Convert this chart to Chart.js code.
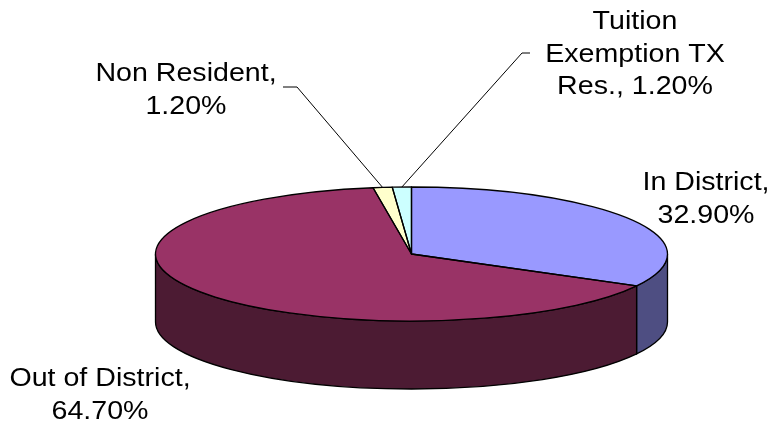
<!DOCTYPE html>
<html>
<head>
<meta charset="utf-8">
<script src="https://cdn.jsdelivr.net/npm/chart.js@4.4.0/dist/chart.umd.min.js"></script>
<style>
  html, body { margin: 0; padding: 0; background: #fff; }
  #wrap { width: 773px; height: 424px; }
</style>
</head>
<body>
<div id="wrap"><canvas id="residencyPie" width="773" height="424"></canvas></div>
<script>
// Residency breakdown, percent of students
const categories = ['In District', 'Out of District', 'Non Resident', 'Tuition Exemption TX Res.'];
const shares = [32.9, 64.7, 1.2, 1.2];
const topColors = ['#9999FF', '#993366', '#FFFFCC', '#CCFFFF'];
const sideColors = ['#4E4E82', '#4C1B33', '#808066', '#668080'];

// tilted pie: ellipse radii and wall height in canvas pixels
const PIE = { cx: 411.5, cy: 254, rx: 256, ry: 67, depth: 68 };

// label centre x / first baseline; stub = leader elbow for the thin slices
const LABELS = [
    { x: 706, y: 190 },
    { x: 100, y: 386 },
    { x: 186, y: 81, stub: [283, 297], stubY: 87 },
    { x: 635, y: 29, stub: [530, 522], stubY: 53 }
];
const FONT_PX = 26, STRETCH = 1.1, LINE_H = 32.5, WRAP_W = 195;

const R = 100; // pie radius Chart.js lays out before squashing

// squash the round pie into the ellipse around its centre
function squash(ctx, arc) {
    ctx.translate(arc.x, arc.y);
    ctx.scale(PIE.rx / arc.outerRadius, PIE.ry / arc.outerRadius);
    ctx.translate(-arc.x, -arc.y);
}

const pie3d = {
    id: 'pie3d',
    beforeDatasetsDraw(chart) {
        const ctx = chart.ctx;
        const arcs = chart.getDatasetMeta(0).data;
        // front wall, only the part facing the viewer (0..PI)
        ctx.save();
        ctx.lineWidth = 1.3;
        ctx.strokeStyle = '#000';
        arcs.forEach((arc, i) => {
            const a = Math.max(arc.startAngle, 0);
            const b = Math.min(arc.endAngle, Math.PI);
            if (b <= a) return;
            ctx.beginPath();
            ctx.ellipse(arc.x, arc.y, PIE.rx, PIE.ry, 0, a, b);
            ctx.ellipse(arc.x, arc.y + PIE.depth, PIE.rx, PIE.ry, 0, b, a, true);
            ctx.closePath();
            ctx.fillStyle = sideColors[i];
            ctx.fill();
            ctx.stroke();
        });
        ctx.restore();
        ctx.save();
        if (arcs.length) squash(ctx, arcs[0]);
    },
    afterDatasetsDraw(chart) {
        const ctx = chart.ctx;
        ctx.restore();
        // outline each top face with an even pen width
        const arcs = chart.getDatasetMeta(0).data;
        arcs.forEach(arc => {
            ctx.save();
            squash(ctx, arc);
            ctx.beginPath();
            ctx.moveTo(arc.x, arc.y);
            ctx.arc(arc.x, arc.y, arc.outerRadius, arc.startAngle, arc.endAngle);
            ctx.closePath();
            ctx.restore();
            ctx.lineWidth = 1.3;
            ctx.strokeStyle = '#000';
            ctx.lineJoin = 'round';
            ctx.stroke();
        });
    }
};

function wrapText(ctx, text) {
    const words = text.split(' ');
    const lines = [];
    let cur = '';
    words.forEach(w => {
        const test = cur ? cur + ' ' + w : w;
        if (cur && ctx.measureText(test).width * STRETCH > WRAP_W) {
            lines.push(cur);
            cur = w;
        } else {
            cur = test;
        }
    });
    if (cur) lines.push(cur);
    return lines;
}

const sliceLabels = {
    id: 'sliceLabels',
    afterDraw(chart) {
        const ctx = chart.ctx;
        const arcs = chart.getDatasetMeta(0).data;
        ctx.save();
        ctx.font = FONT_PX + 'px "Liberation Sans", Arial, sans-serif';
        ctx.textAlign = 'center';
        ctx.textBaseline = 'alphabetic';
        ctx.fillStyle = '#000';
        categories.forEach((name, i) => {
            const pos = LABELS[i];
            const text = name + ', ' + shares[i].toFixed(2) + '%';
            wrapText(ctx, text).forEach((line, k) => {
                ctx.save();
                ctx.translate(pos.x, pos.y + k * LINE_H);
                ctx.scale(STRETCH, 1);
                ctx.fillText(line, 0, 0);
                ctx.restore();
            });
            if (pos.stub) {
                const arc = arcs[i];
                const mid = (arc.startAngle + arc.endAngle) / 2;
                ctx.beginPath();
                ctx.moveTo(pos.stub[0], pos.stubY);
                ctx.lineTo(pos.stub[1], pos.stubY);
                ctx.lineTo(arc.x + PIE.rx * Math.cos(mid), arc.y + PIE.ry * Math.sin(mid));
                ctx.lineWidth = 1;
                ctx.strokeStyle = '#000';
                ctx.stroke();
            }
        });
        ctx.restore();
    }
};

new Chart(document.getElementById('residencyPie'), {
    type: 'pie',
    data: {
        labels: categories,
        datasets: [{
            data: shares,
            backgroundColor: topColors,
            borderWidth: 0,
            clip: false
        }]
    },
    options: {
        responsive: false,
        animation: false,
        events: [],
        devicePixelRatio: 1,
        layout: {
            padding: {
                left: PIE.cx - R,
                right: 773 - (PIE.cx + R),
                top: PIE.cy - R,
                bottom: 424 - (PIE.cy + R)
            }
        },
        plugins: {
            legend: { display: false },
            tooltip: { enabled: false }
        }
    },
    plugins: [pie3d, sliceLabels]
});
</script>
</body>
</html>
